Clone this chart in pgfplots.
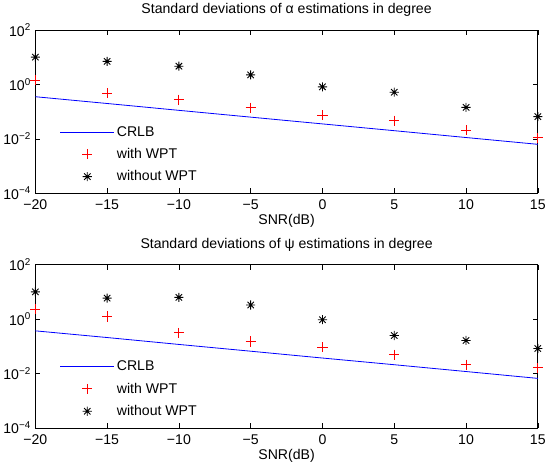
\documentclass[border=0pt]{standalone}
\usepackage{fontspec}
\setmainfont{Liberation Sans}
\usepackage{pgfplots}
\pgfplotsset{compat=1.18}
\pgfdeclareplotmark{mstar}{%
 \pgfpathmoveto{\pgfqpoint{-\pgfplotmarksize}{0pt}}\pgfpathlineto{\pgfqpoint{\pgfplotmarksize}{0pt}}%
 \pgfpathmoveto{\pgfqpoint{0pt}{-\pgfplotmarksize}}\pgfpathlineto{\pgfqpoint{0pt}{\pgfplotmarksize}}%
 \pgfpathmoveto{\pgfqpoint{-.707\pgfplotmarksize}{-.707\pgfplotmarksize}}\pgfpathlineto{\pgfqpoint{.707\pgfplotmarksize}{.707\pgfplotmarksize}}%
 \pgfpathmoveto{\pgfqpoint{-.707\pgfplotmarksize}{.707\pgfplotmarksize}}\pgfpathlineto{\pgfqpoint{.707\pgfplotmarksize}{-.707\pgfplotmarksize}}%
 \pgfusepathqstroke}
\pgfplotsset{
  mystyle/.style={
    scale only axis, width=499pt, height=162pt,
    xmin=-20, xmax=15, ymin=1e-4, ymax=1e2,
    xtick={-20,-15,-10,-5,0,5,10,15},
    xticklabels={−20,−15,−10,−5,0,5,10,15},
    ytick={1e-4,1e-2,1,1e2},
    yticklabels={10\textsuperscript{−4},10\textsuperscript{−2},10\textsuperscript{0},10\textsuperscript{2}},
    minor ytick={},
    tick align=inside, major tick length=5pt,
    tick style={black, line width=0.5pt},
    axis line style={line width=0.7pt},
    ticklabel style={font=\fontsize{14}{16}\selectfont},
    xticklabel style={yshift=-3pt},
    yticklabel style={xshift=-1pt},
    label style={font=\fontsize{14}{16}\selectfont},
    xlabel style={yshift=2pt},
    title style={font=\fontsize{14}{16}\selectfont, yshift=4pt},
    xlabel={SNR(dB)},
    legend style={draw=none, fill=none, at={(rel axis cs:0.042,0.04)}, anchor=south west,
      font=\fontsize{14}{16}\selectfont, row sep=6.5pt,
      /tikz/every even column/.append style={column sep=3pt}},
    legend cell align=left,
    legend image code/.code={\draw[mark repeat=2, mark phase=2] plot coordinates {(0pt,0pt) (27pt,0pt) (54pt,0pt)};},
  },
  crlb/.style={color=blue, line width=0.8pt, no markers},
  wpt/.style={color=red, only marks, mark=+, mark size=5pt, mark options={draw=red, line width=1pt}},
  nowpt/.style={color=black, only marks, mark=mstar, mark size=4.5pt, mark options={draw=black, line width=0.9pt}},
}
\begin{document}
\begin{tikzpicture}
\begin{axis}[ymode=log, set layers=standard, clip=false, clip marker paths=false, mystyle, name=top,
  title={Standard deviations of α estimations in degree}]
\addplot[crlb] coordinates {(-20,0.355) (-15,0.2) (-10,0.112) (-5,0.063) (0,0.0355) (5,0.02) (10,0.0112) (15,0.0063)};
\addlegendentry{CRLB}
\addplot[wpt] coordinates {(-20,1.44) (-15,0.48) (-10,0.275) (-5,0.14) (0,0.074) (5,0.047) (10,0.021) (15,0.011)};
\addlegendentry{with WPT}
\addplot[nowpt] coordinates {(-20,10.2) (-15,7.1) (-10,4.7) (-5,2.25) (0,0.82) (5,0.52) (10,0.144) (15,0.066)};
\addlegendentry{without WPT}
\end{axis}
\begin{axis}[ymode=log, set layers=standard, clip=false, clip marker paths=false, mystyle, name=bot, at={(0,-233pt)},
  title={Standard deviations of ψ estimations in degree}]
\addplot[crlb] coordinates {(-20,0.37) (-15,0.21) (-10,0.117) (-5,0.066) (0,0.037) (5,0.021) (10,0.0118) (15,0.0066)};
\addlegendentry{CRLB}
\addplot[wpt] coordinates {(-20,2.3) (-15,1.25) (-10,0.31) (-5,0.15) (0,0.091) (5,0.049) (10,0.021) (15,0.016)};
\addlegendentry{with WPT}
\addplot[nowpt] coordinates {(-20,10.1) (-15,5.9) (-10,6.3) (-5,3.3) (0,0.95) (5,0.25) (10,0.164) (15,0.083)};
\addlegendentry{without WPT}
\end{axis}
\end{tikzpicture}
\end{document}
